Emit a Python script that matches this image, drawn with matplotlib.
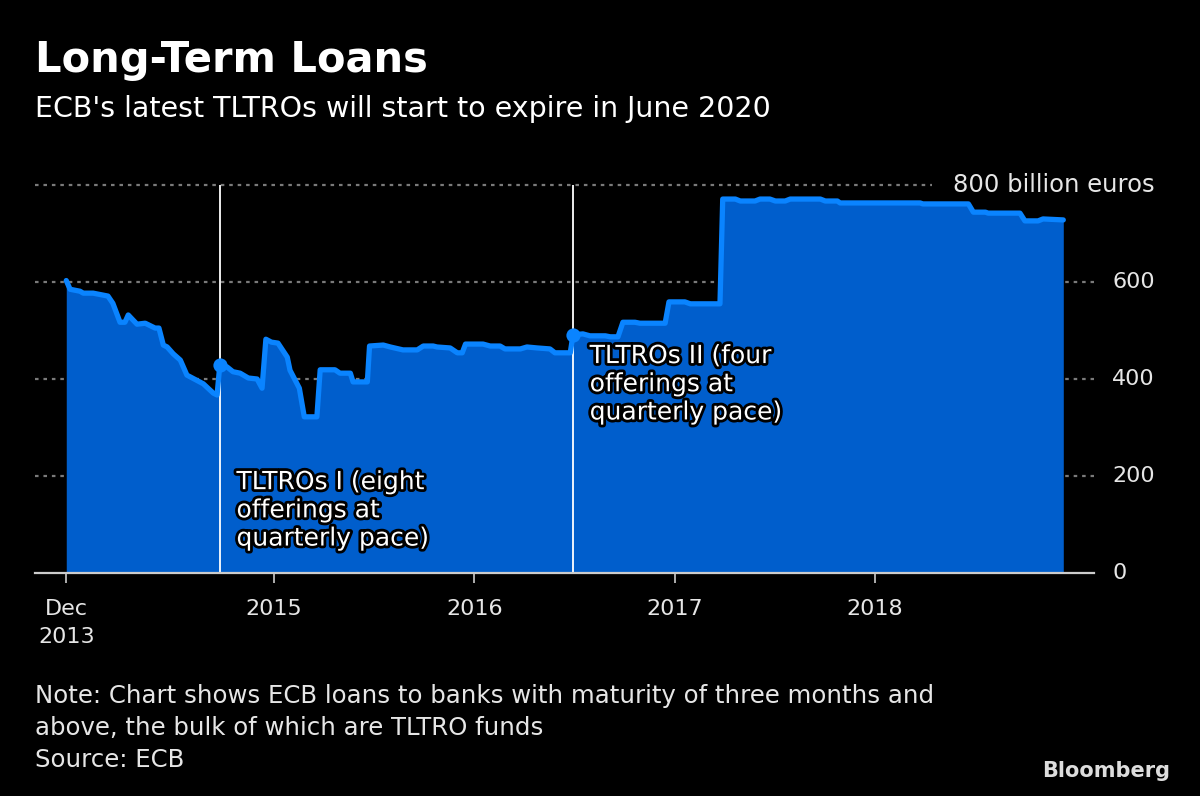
import numpy as np
import pandas as pd
import matplotlib.pyplot as plt
import matplotlib.dates as mdates
import matplotlib.patheffects as pe

# ---------------------------------------------------------
# data (billion euros)
# ---------------------------------------------------------
dates = [
    "2013-12-18", "2013-12-25", "2014-01-12", "2014-01-18", "2014-02-05",
    "2014-03-04", "2014-03-13", "2014-03-26", "2014-04-04", "2014-04-10",
    "2014-04-26", "2014-05-11", "2014-05-29", "2014-06-05", "2014-06-13",
    "2014-06-20", "2014-07-01", "2014-07-14", "2014-07-26", "2014-08-25",
    "2014-09-12", "2014-09-19", "2014-09-24", "2014-10-07", "2014-10-18",
    "2014-10-31", "2014-11-15", "2014-12-01", "2014-12-10", "2014-12-17",
    "2014-12-27", "2015-01-08", "2015-01-25", "2015-01-30", "2015-02-16",
    "2015-02-25", "2015-03-20", "2015-03-26", "2015-04-22", "2015-05-01",
    "2015-05-20", "2015-05-25", "2015-06-20", "2015-06-24", "2015-07-19",
    "2015-08-01", "2015-08-24", "2015-09-19", "2015-09-30", "2015-10-18",
    "2015-10-25", "2015-11-18", "2015-12-01", "2015-12-10", "2015-12-16",
    "2016-01-17", "2016-01-30", "2016-02-17", "2016-02-26", "2016-03-25",
    "2016-04-06", "2016-04-25", "2016-05-18", "2016-05-27", "2016-06-24",
    "2016-06-29", "2016-07-17", "2016-07-30", "2016-08-27", "2016-09-05",
    "2016-09-19", "2016-09-28", "2016-10-20", "2016-10-29", "2016-12-14",
    "2016-12-21", "2017-01-19", "2017-01-29", "2017-03-24", "2017-03-29",
    "2017-04-21", "2017-04-30", "2017-05-27", "2017-06-05", "2017-06-23",
    "2017-07-03", "2017-07-21", "2017-07-30", "2017-09-23", "2017-10-02",
    "2017-10-24", "2017-10-29", "2018-03-24", "2018-03-29", "2018-06-20",
    "2018-06-29", "2018-07-21", "2018-07-26", "2018-09-22", "2018-10-01",
    "2018-10-25", "2018-11-03", "2018-12-10",
]
loans = [
    603, 585, 581, 577, 577,
    571, 556, 517, 517, 532,
    513, 515, 505, 505, 470,
    466, 452, 439, 408, 390,
    371, 367, 429, 425, 415,
    412, 402, 400, 381, 482,
    476, 474, 445, 418, 381,
    322, 322, 419, 419, 412,
    412, 394, 394, 468, 470,
    466, 460, 460, 468, 468,
    466, 464, 454, 454, 472,
    472, 468, 468, 462, 462,
    466, 464, 462, 454, 454,
    491, 493, 489, 489, 487,
    487, 517, 517, 515, 515,
    559, 559, 555, 555, 771,
    771, 767, 767, 771, 771,
    767, 767, 771, 771, 767,
    767, 763, 763, 761, 761,
    744, 744, 742, 742, 726,
    726, 730, 728,
]

# first offerings of each programme
event_dates = ["2014-09-24", "2016-06-29"]
event_values = [429, 491]
event_labels = ["TLTROs I (eight\nofferings at\nquarterly pace)",
                "TLTROs II (four\nofferings at\nquarterly pace)"]
event_label_values = [212, 472]

x_ticks = ["2013-12-18", "2015-01-01", "2016-01-01", "2017-01-01", "2018-01-01"]
x_tick_labels = ["Dec\n2013", "2015", "2016", "2017", "2018"]
y_ticks = [0, 200, 400, 600]
y_top = 800

title = "Long-Term Loans"
subtitle = "ECB's latest TLTROs will start to expire in June 2020"
note_lines = [
    "Note: Chart shows ECB loans to banks with maturity of three months and",
    "above, the bulk of which are TLTRO funds",
    "Source: ECB",
]

# ---------------------------------------------------------
# style
# ---------------------------------------------------------
plt.rcParams["font.family"] = ["DejaVu Sans"]
bg = "#000000"
fill_color = "#005ECC"
line_color = "#0A84FF"
grid_color = "#7A7A7A"
text_color = "#E6E6E6"

W, H = 1200, 796
fig = plt.figure(figsize=(W / 100, H / 100), dpi=100, facecolor=bg)

ax_left, ax_right, ax_bottom, ax_top = 35, 1094, 573, 185
ax = fig.add_axes([ax_left / W, 1 - ax_bottom / H,
                   (ax_right - ax_left) / W, (ax_bottom - ax_top) / H])
ax.set_facecolor(bg)

x = pd.to_datetime(dates)
ax.set_xlim(pd.Timestamp("2013-10-22"), pd.Timestamp("2019-02-04"))
ax.set_ylim(0, y_top)

# gridlines
for v in y_ticks[1:]:
    ax.axhline(v, color=grid_color, lw=1.6, ls=(0, (1.6, 2.2)), zorder=0)
ax.axhline(y_top, xmin=0, xmax=(932 - ax_left) / (ax_right - ax_left),
           color=grid_color, lw=1.6, ls=(0, (1.6, 2.2)), zorder=0, clip_on=False)

ax.fill_between(x, loans, 0, color=fill_color, lw=0, zorder=1)
ax.plot(x, loans, color=line_color, lw=3.8, solid_capstyle="round",
        solid_joinstyle="round", zorder=3)

# event lines, dots and labels
for d, v, lab, lv in zip(event_dates, event_values, event_labels, event_label_values):
    dt = pd.Timestamp(d)
    ax.vlines(dt, 0, y_top, color="white", lw=1.3, zorder=2)
    ax.scatter([dt], [v], s=105, color=line_color, zorder=4, lw=0)
    ax.annotate(lab, xy=(dt, lv), xytext=(12, 0), textcoords="offset points",
                ha="left", va="top", fontsize=18, color="white",
                linespacing=1.22, zorder=5,
                path_effects=[pe.withStroke(linewidth=4, foreground="black")])

# axes styling
for s in ["top", "left", "right"]:
    ax.spines[s].set_visible(False)
ax.spines["bottom"].set_color("#CCCCCC")
ax.spines["bottom"].set_linewidth(1.6)

ax.set_xticks(pd.to_datetime(x_ticks))
ax.set_xticklabels(x_tick_labels, color=text_color, fontsize=16,
                   linespacing=1.5)
ax.tick_params(axis="x", length=7, width=1.2, color="#CCCCCC", pad=12)

ax.yaxis.tick_right()
ax.set_yticks(y_ticks)
ax.set_yticklabels([str(v) for v in y_ticks], color=text_color, fontsize=16)
ax.tick_params(axis="y", length=0, pad=13)
for lbl in ax.get_yticklabels():
    lbl.set_verticalalignment("center")

fig.text(1155 / W, 1 - 185 / H, f"{y_top} billion euros", ha="right",
         va="center", fontsize=17.5, color=text_color)

# titles and notes
fig.text(35 / W, 1 - 72 / H, title, ha="left", va="baseline",
         fontsize=30, fontweight="bold", color="white")
fig.text(35 / W, 1 - 117 / H, subtitle, ha="left", va="baseline",
         fontsize=20.5, color="white")
for i, line in enumerate(note_lines):
    fig.text(35 / W, 1 - (703 + 32 * i) / H, line, ha="left", va="baseline",
             fontsize=17.6, color=text_color)
fig.text(1170 / W, 1 - 777 / H, "Bloomberg", ha="right", va="baseline",
         fontsize=15, fontweight="bold", color="#DDDDDD")

fig.savefig("out.png", dpi=100, facecolor=bg)
